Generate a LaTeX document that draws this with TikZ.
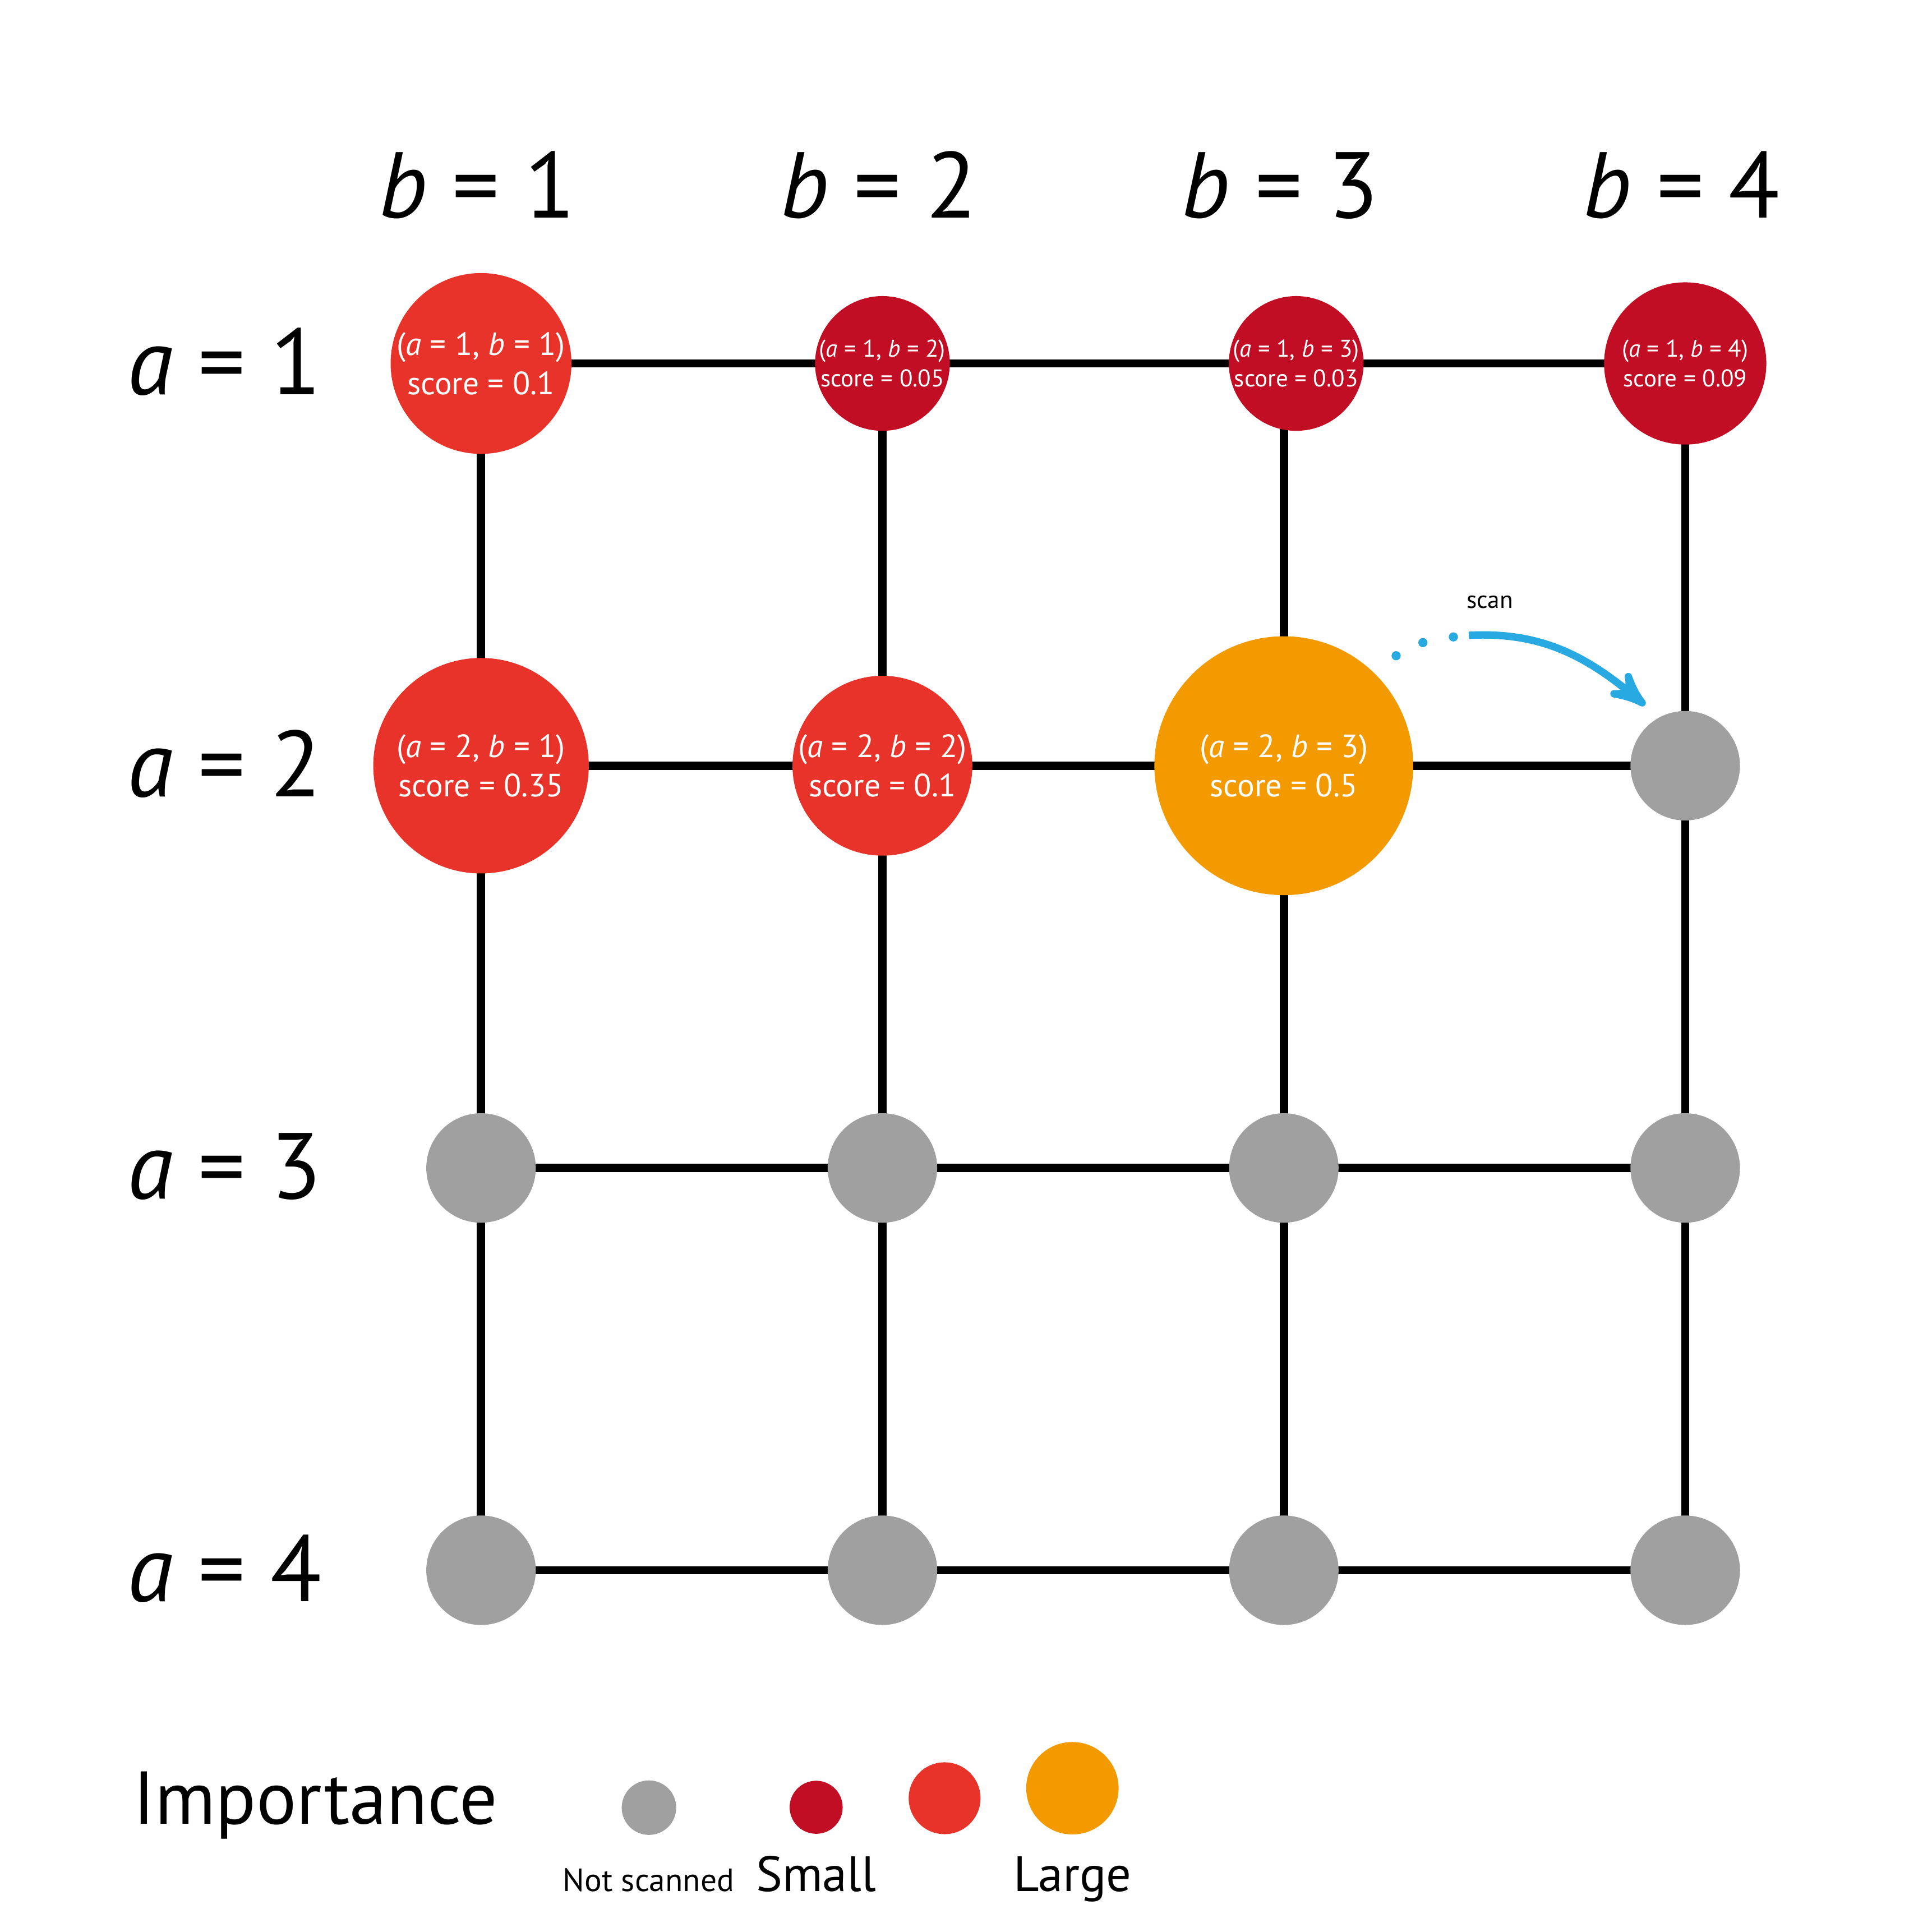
\documentclass[tikz,border=0pt]{standalone}
\usepackage{fontspec}
\setmainfont{PT Sans}
\usetikzlibrary{arrows,backgrounds}
\definecolor{cellgray}{HTML}{9FA09F}
\definecolor{lowred}{HTML}{C10E24}
\definecolor{midred}{HTML}{E73329}
\definecolor{highorange}{HTML}{F39A00}
\definecolor{scanblue}{HTML}{29A9E1}
\newcommand{\pair}[2]{(\textit{a} = #1, \textit{b} = #2)}
\tikzset{
    edge line/.style={line width=1.9pt},
    cell/.style={circle, fill=#1, inner sep=0pt, text=white, align=center},
    big text/.style={font=\fontsize{7.4}{9}\selectfont},
    small text/.style={font=\fontsize{5.55}{6.8}\selectfont},
    unscanned/.style={cell=cellgray, minimum size=0.884cm},
    axis label/.style={inner sep=0pt, font=\fontsize{21.5}{26}\selectfont}
}

\begin{document}
\begin{tikzpicture}
        \useasboundingbox (0,0) rectangle (15.6,15.6);

        \foreach \c/\x in {1/3.884,2/7.125,3/10.366,4/13.607}
            \node[axis label, anchor=base] (b\c) at (\x-0.03,13.84) {\textit{b} = \c};
        \foreach \r/\y in {1/12.665,2/9.417,3/6.169,4/2.921}
            \node[axis label, anchor=base west] (a\r) at (1.023,\y-0.25) {\textit{a} = \r};

        \node[cell=midred, minimum size=1.46cm, big text] (n11) at (3.884,12.665) {\pair{1}{1}\\score = 0.1};
        \node[cell=lowred, minimum size=1.086cm, small text] (n12) at (7.125,12.665) {\pair{1}{2}\\score = 0.05};
        \node[cell=lowred, minimum size=1.086cm, small text] (n13) at (10.466,12.665) {\pair{1}{3}\\score = 0.03};
        \node[cell=lowred, minimum size=1.31cm, small text] (n14) at (13.607,12.665) {\pair{1}{4}\\score = 0.09};
        \node[cell=midred, minimum size=1.74cm, big text] (n21) at (3.884,9.417) {\pair{2}{1}\\score = 0.35};
        \node[cell=midred, minimum size=1.452cm, big text] (n22) at (7.125,9.417) {\pair{2}{2}\\score = 0.1};
        \node[cell=highorange, minimum size=2.09cm, big text] (n23) at (10.366,9.417) {\pair{2}{3}\\score = 0.5};
        \node[unscanned] (n24) at (13.607,9.417) {};
        \foreach \r/\y in {3/6.169,4/2.921}
            \foreach \c/\x in {1/3.884,2/7.125,3/10.366,4/13.607}
                \node[unscanned] (n\r\c) at (\x,\y) {};

        \begin{pgfonlayer}{background}
            \foreach \r in {1,...,4}
                \draw[edge line] (n\r1.center) -- (n\r4.center);
            \foreach \c in {1,...,4}
                \draw[edge line] (n1\c.center -| n4\c) -- (n4\c.center);
        \end{pgfonlayer}

        \coordinate (scanfrom) at (11.86,10.47);
        \coordinate (scanto) at (13.283,9.905);
        \foreach \x/\y in {11.273/10.305,11.489/10.411,11.735/10.457}
            \fill[scanblue] (\x,\y) circle (0.037);
        \draw[scanblue, line width=1.7pt, -stealth'] (scanfrom) to[out=3, in=140] (scanto);
        \node[font=\fontsize{5.6}{7}\selectfont, anchor=base] (scanlabel) at (12.03,10.687) {scan};

        \node[inner sep=0pt, font=\fontsize{17.2}{20}\selectfont, anchor=base west] (importance) at (1.069,0.87) {Importance};
        \node[cell=cellgray, minimum size=0.44cm] (keynone) at (5.24,1.004) {};
        \node[cell=lowred, minimum size=0.428cm] (keysmall) at (6.59,1.007) {};
        \node[cell=midred, minimum size=0.58cm] (keymid) at (7.627,1.08) {};
        \node[cell=highorange, minimum size=0.746cm] (keylarge) at (8.659,1.161) {};
        \node[font=\fontsize{7.4}{9}\selectfont, anchor=base] (nonelabel) at (5.237,0.33) {Not scanned};
        \node[font=\fontsize{11.4}{14}\selectfont, anchor=base] (smalllabel) at (6.59,0.33) {Small};
        \node[font=\fontsize{11.4}{14}\selectfont, anchor=base] (largelabel) at (8.66,0.33) {Large};
    \end{tikzpicture}
\end{document}
